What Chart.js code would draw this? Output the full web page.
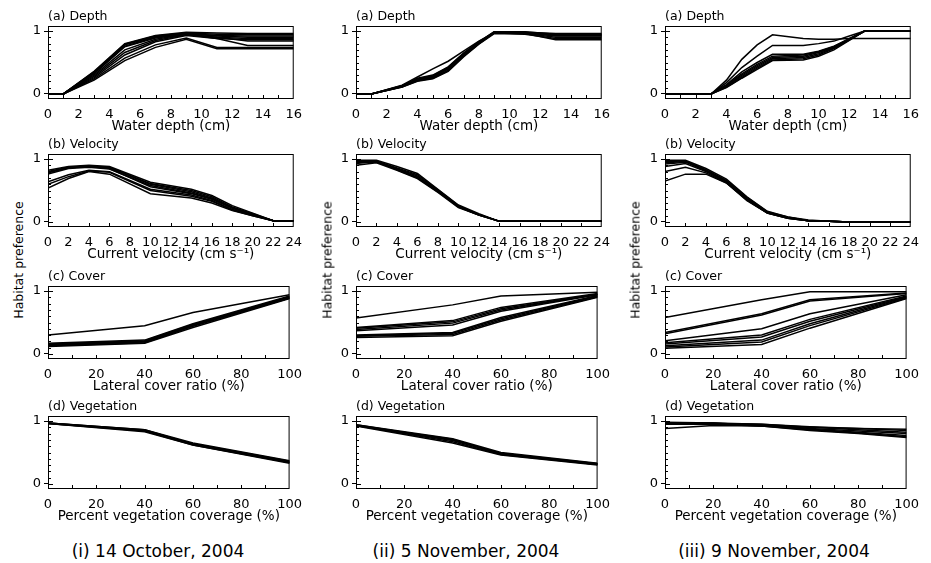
<!DOCTYPE html>
<html>
<head>
<meta charset="utf-8">
<script src="https://cdn.jsdelivr.net/npm/chart.js@4.4.0/dist/chart.umd.min.js"></script>
<style>
  body { margin: 0; background: #fff; width: 931px; height: 563px; position: relative; overflow: hidden; font-family: "DejaVu Sans", sans-serif; }
  canvas { position: absolute; }
  .ylab { position: absolute; font-size: 12.5px; white-space: nowrap; transform: translate(-50%, -50%) rotate(-90deg); }
  .date { position: absolute; font-size: 17px; white-space: nowrap; transform: translate(-50%, -50%); }
</style>
</head>
<body>
<script>
// ---- data: habitat preference curves, one set of lines per panel ----
// (a) Depth
const depthX1 = [0, 1, 3, 5, 7, 9, 11, 13, 16];
const depth1 = [
  [0, 0, 0.36, 0.80, 0.93, 0.98, 0.97, 0.96, 0.96],
  [0, 0, 0.35, 0.79, 0.92, 0.97, 0.95, 0.94, 0.94],
  [0, 0, 0.34, 0.78, 0.91, 0.96, 0.93, 0.92, 0.92],
  [0, 0, 0.33, 0.76, 0.90, 0.96, 0.92, 0.90, 0.90],
  [0, 0, 0.32, 0.75, 0.89, 0.95, 0.90, 0.88, 0.88],
  [0, 0, 0.30, 0.70, 0.87, 0.95, 0.88, 0.86, 0.86],
  [0, 0, 0.28, 0.66, 0.85, 0.94, 0.90, 0.84, 0.84],
  [0, 0, 0.26, 0.62, 0.83, 0.93, 0.88, 0.77, 0.77],
  [0, 0, 0.24, 0.57, 0.78, 0.89, 0.74, 0.74, 0.74],
  [0, 0, 0.22, 0.53, 0.74, 0.87, 0.72, 0.72, 0.72]
];
const depthX2 = [0, 1, 3, 4, 5, 6, 7, 8, 9, 11, 13, 16];
const depth2 = [
  [0, 0, 0.13, 0.24, 0.29, 0.42, 0.64, 0.82, 0.99, 0.98, 0.96, 0.96],
  [0, 0, 0.12, 0.23, 0.27, 0.40, 0.62, 0.81, 0.98, 0.97, 0.94, 0.94],
  [0, 0, 0.12, 0.22, 0.26, 0.38, 0.61, 0.80, 0.97, 0.97, 0.92, 0.92],
  [0, 0, 0.11, 0.21, 0.25, 0.37, 0.60, 0.80, 0.97, 0.96, 0.90, 0.90],
  [0, 0, 0.13, 0.25, 0.30, 0.43, 0.65, 0.83, 0.99, 0.99, 0.95, 0.95],
  [0, 0, 0.14, 0.27, 0.40, 0.52, 0.68, 0.84, 0.97, 0.96, 0.86, 0.86],
  [0, 0, 0.12, 0.23, 0.28, 0.41, 0.63, 0.81, 0.98, 0.98, 0.93, 0.93],
  [0, 0, 0.11, 0.20, 0.24, 0.36, 0.59, 0.79, 0.96, 0.95, 0.88, 0.88]
];
const depthX3 = [0, 1, 3, 4, 5, 6, 7, 9, 10, 11, 12, 13, 16];
const depth3 = [
  [0, 0, 0, 0.22, 0.55, 0.78, 0.94, 0.88, 0.87, 0.87, 0.88, 0.88, 0.88],
  [0, 0, 0, 0.18, 0.42, 0.60, 0.77, 0.77, 0.80, 0.84, 0.92, 1, 1],
  [0, 0, 0, 0.15, 0.35, 0.50, 0.63, 0.63, 0.68, 0.76, 0.88, 1, 1],
  [0, 0, 0, 0.14, 0.32, 0.47, 0.60, 0.62, 0.67, 0.75, 0.88, 1, 1],
  [0, 0, 0, 0.13, 0.30, 0.45, 0.58, 0.60, 0.66, 0.74, 0.87, 1, 1],
  [0, 0, 0, 0.12, 0.28, 0.43, 0.56, 0.58, 0.64, 0.73, 0.86, 1, 1],
  [0, 0, 0, 0.11, 0.26, 0.41, 0.54, 0.56, 0.62, 0.72, 0.86, 1, 1],
  [0, 0, 0, 0.10, 0.25, 0.39, 0.53, 0.54, 0.60, 0.70, 0.85, 1, 1]
];

// (b) Velocity
const velX1 = [0, 2, 4, 6, 10, 14, 16, 18, 20, 22, 24];
const vel1 = [
  [0.82, 0.88, 0.90, 0.88, 0.63, 0.52, 0.42, 0.26, 0.14, 0.02, 0.02],
  [0.80, 0.87, 0.89, 0.87, 0.61, 0.50, 0.40, 0.24, 0.13, 0.02, 0.02],
  [0.78, 0.86, 0.88, 0.86, 0.60, 0.48, 0.38, 0.23, 0.12, 0.02, 0.02],
  [0.76, 0.85, 0.87, 0.84, 0.58, 0.46, 0.37, 0.22, 0.12, 0.02, 0.02],
  [0.79, 0.86, 0.88, 0.85, 0.56, 0.45, 0.36, 0.22, 0.11, 0.02, 0.02],
  [0.64, 0.75, 0.82, 0.80, 0.52, 0.43, 0.34, 0.20, 0.11, 0.02, 0.02],
  [0.60, 0.72, 0.81, 0.79, 0.50, 0.41, 0.33, 0.19, 0.10, 0.02, 0.02],
  [0.54, 0.69, 0.80, 0.76, 0.45, 0.38, 0.30, 0.18, 0.10, 0.02, 0.02]
];
const velX2 = [0, 2, 4, 6, 8, 10, 12, 14, 24];
const vel2 = [
  [0.98, 0.98, 0.88, 0.77, 0.52, 0.27, 0.13, 0.01, 0.01],
  [0.97, 0.97, 0.86, 0.75, 0.51, 0.26, 0.12, 0.01, 0.01],
  [0.96, 0.96, 0.85, 0.73, 0.50, 0.25, 0.12, 0.01, 0.01],
  [0.95, 0.95, 0.84, 0.71, 0.49, 0.24, 0.11, 0.01, 0.01],
  [0.93, 0.96, 0.83, 0.70, 0.48, 0.24, 0.11, 0.01, 0.01],
  [0.90, 0.94, 0.82, 0.69, 0.47, 0.23, 0.11, 0.01, 0.01]
];
const velX3 = [0, 2, 4, 6, 8, 10, 12, 14, 16, 18, 24];
const vel3 = [
  [0.98, 0.98, 0.85, 0.68, 0.40, 0.17, 0.08, 0.03, 0.01, 0, 0],
  [0.96, 0.97, 0.83, 0.66, 0.39, 0.16, 0.08, 0.02, 0.01, 0, 0],
  [0.94, 0.96, 0.82, 0.65, 0.37, 0.15, 0.07, 0.02, 0.01, 0, 0],
  [0.92, 0.95, 0.81, 0.64, 0.36, 0.15, 0.07, 0.02, 0.01, 0, 0],
  [0.88, 0.93, 0.80, 0.63, 0.35, 0.14, 0.06, 0.02, 0.01, 0, 0],
  [0.80, 0.87, 0.78, 0.62, 0.35, 0.14, 0.06, 0.02, 0.01, 0, 0],
  [0.65, 0.76, 0.76, 0.62, 0.34, 0.14, 0.06, 0.02, 0.01, 0, 0]
];

// (c) Cover
const coverX = [0, 40, 60, 100];
const cover1 = [
  [0.30, 0.45, 0.66, 0.94],
  [0.17, 0.22, 0.48, 0.92],
  [0.16, 0.21, 0.47, 0.91],
  [0.15, 0.20, 0.46, 0.90],
  [0.14, 0.19, 0.45, 0.89],
  [0.13, 0.18, 0.44, 0.89],
  [0.12, 0.17, 0.42, 0.88]
];
const cover2 = [
  [0.57, 0.78, 0.92, 0.98],
  [0.42, 0.53, 0.74, 0.96],
  [0.41, 0.51, 0.72, 0.95],
  [0.39, 0.49, 0.70, 0.95],
  [0.37, 0.46, 0.68, 0.94],
  [0.30, 0.34, 0.58, 0.93],
  [0.29, 0.33, 0.56, 0.92],
  [0.28, 0.31, 0.54, 0.91],
  [0.26, 0.29, 0.52, 0.90]
];
const cover3 = [
  [0.58, 0.86, 0.99, 0.99],
  [0.34, 0.64, 0.86, 0.97],
  [0.32, 0.62, 0.84, 0.96],
  [0.21, 0.40, 0.64, 0.94],
  [0.18, 0.30, 0.55, 0.92],
  [0.16, 0.27, 0.52, 0.91],
  [0.13, 0.22, 0.48, 0.90],
  [0.11, 0.19, 0.45, 0.89],
  [0.09, 0.15, 0.41, 0.88]
];

// (d) Vegetation
const vegX = [0, 40, 60, 100];
const veg1 = [
  [0.97, 0.86, 0.65, 0.37],
  [0.97, 0.85, 0.64, 0.36],
  [0.96, 0.85, 0.63, 0.35],
  [0.96, 0.84, 0.62, 0.34],
  [0.96, 0.83, 0.62, 0.33],
  [0.97, 0.86, 0.63, 0.34]
];
const veg2 = [
  [0.94, 0.72, 0.50, 0.33],
  [0.94, 0.70, 0.49, 0.32],
  [0.93, 0.69, 0.48, 0.32],
  [0.93, 0.67, 0.47, 0.31],
  [0.92, 0.65, 0.46, 0.30],
  [0.93, 0.71, 0.48, 0.31]
];
const vegX3 = [0, 20, 40, 60, 80, 100];
const veg3 = [
  [0.97, 0.97, 0.95, 0.90, 0.86, 0.82],
  [0.96, 0.96, 0.94, 0.88, 0.84, 0.80],
  [0.98, 0.97, 0.93, 0.87, 0.82, 0.77],
  [0.97, 0.96, 0.92, 0.86, 0.81, 0.75],
  [0.95, 0.95, 0.92, 0.85, 0.80, 0.74],
  [0.88, 0.93, 0.92, 0.90, 0.88, 0.87],
  [0.96, 0.96, 0.95, 0.91, 0.88, 0.85]
];

const dates = ['(i) 14 October, 2004', '(ii) 5 November, 2004', '(iii) 9 November, 2004'];

// rows of panels: title, axis title, x range and tick steps
const rows = [
  { title: '(a) Depth', xTitle: 'Water depth (cm)', max: 16, step: 2, minor: 1,
    panels: [[depthX1, depth1], [depthX2, depth2], [depthX3, depth3]] },
  { title: '(b) Velocity', xTitle: 'Current velocity (cm s\u207B\u00B9)', max: 24, step: 2, minor: 2,
    panels: [[velX1, vel1], [velX2, vel2], [velX3, vel3]] },
  { title: '(c) Cover', xTitle: 'Lateral cover ratio (%)', max: 100, step: 20, minor: 10,
    panels: [[coverX, cover1], [coverX, cover2], [coverX, cover3]] },
  { title: '(d) Vegetation', xTitle: 'Percent vegetation coverage (%)', max: 100, step: 20, minor: 10,
    panels: [[vegX, veg1], [vegX, veg2], [vegX3, veg3]] }
];

// frame + inward ticks
const framePlugin = {
  id: 'frame',
  afterDatasetsDraw(chart, args, opts) {
    const { ctx, chartArea: a, scales: { x, y } } = chart;
    ctx.save();
    ctx.strokeStyle = '#000';
    ctx.lineWidth = 1;
    ctx.strokeRect(a.left + 0.5, a.top + 0.5, a.width - 1, a.height - 1);
    ctx.beginPath();
    const n = Math.round((x.max - x.min) / opts.minor);
    for (let i = 1; i < n; i++) {
      const px = Math.round(x.getPixelForValue(x.min + i * opts.minor)) + 0.5;
      ctx.moveTo(px, a.bottom);
      ctx.lineTo(px, a.bottom - 4);
    }
    for (let k = 0; k <= 10; k++) {
      const py = Math.round(y.getPixelForValue(k / 10)) + 0.5;
      ctx.moveTo(a.left, py);
      ctx.lineTo(a.left + (k % 10 === 0 ? 5 : 3), py);
    }
    ctx.stroke();
    ctx.restore();
  }
};

const colLeft = [48, 356, 665];
const rowTop = [26, 154, 286, 416];
const tickFont = { family: 'DejaVu Sans', size: 13 };

rows.forEach((row, r) => {
  row.panels.forEach(([xs, series], c) => {
    const cv = document.createElement('canvas');
    cv.width = 284;
    cv.height = 135;
    cv.style.left = (colLeft[c] - 22) + 'px';
    cv.style.top = (rowTop[r] - 24) + 'px';
    document.body.appendChild(cv);

    new Chart(cv, {
      type: 'line',
      data: {
        datasets: series.map(ys => ({
          data: xs.map((x, i) => ({ x: x, y: ys[i] })),
          borderColor: '#000',
          borderWidth: 1.5,
          pointRadius: 0,
          tension: 0,
          fill: false
        }))
      },
      options: {
        responsive: false,
        animation: false,
        devicePixelRatio: 1,
        layout: { padding: { left: 0, right: 14, top: 0, bottom: 2 } },
        plugins: {
          legend: { display: false },
          tooltip: { enabled: false },
          title: {
            display: true, text: row.title, align: 'start', fullSize: false,
            color: '#000', font: { family: 'DejaVu Sans', size: 12.5, weight: 'normal', lineHeight: 1.2 },
            padding: { top: 7, bottom: 2 }
          },
          frame: { minor: row.minor }
        },
        scales: {
          x: {
            type: 'linear', min: 0, max: row.max,
            border: { display: false },
            grid: { display: false, drawTicks: false },
            ticks: { stepSize: row.step, autoSkip: false, maxRotation: 0, padding: 8, color: '#000', font: tickFont },
            title: { display: true, text: row.xTitle, color: '#000', font: { family: 'DejaVu Sans', size: 13.5 }, padding: { top: 0, bottom: 0 } },
            afterFit: s => { s.height = 36; }
          },
          y: {
            min: -0.08, max: 1.08,
            border: { display: false },
            grid: { drawOnChartArea: false, drawTicks: true, tickLength: 4, color: '#000' },
            ticks: { padding: 3, color: '#000', font: tickFont },
            afterBuildTicks: s => { s.ticks = [{ value: 0 }, { value: 1 }]; },
            afterFit: s => { s.width = 22; }
          }
        }
      },
      plugins: [framePlugin]
    });
  });
});

// shared y label and date captions
[18, 327, 635].forEach(cx => {
  const d = document.createElement('div');
  d.className = 'ylab';
  d.style.left = cx + 'px';
  d.style.top = '260px';
  d.textContent = 'Habitat preference';
  document.body.appendChild(d);
});
[158, 466, 774].forEach((cx, i) => {
  const d = document.createElement('div');
  d.className = 'date';
  d.style.left = cx + 'px';
  d.style.top = '551px';
  d.textContent = dates[i];
  document.body.appendChild(d);
});
</script>
</body>
</html>
